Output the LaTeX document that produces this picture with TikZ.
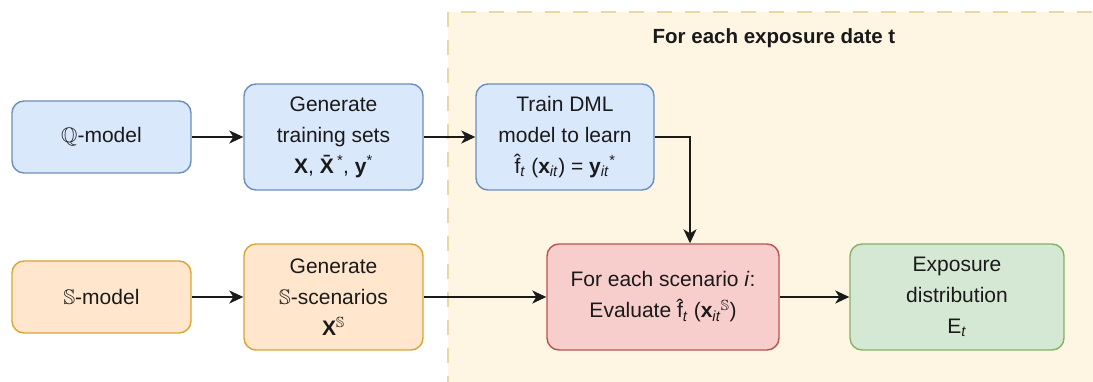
\documentclass[tikz,border=0pt]{standalone}
\usepackage{fontspec}
\usepackage{amssymb}
\usepackage{amsmath}
\setmainfont{Liberation Sans}
\usetikzlibrary{arrows.meta}
\definecolor{bfill}{HTML}{DAE8FC}\definecolor{bline}{HTML}{6C8EBF}
\definecolor{ofill}{HTML}{FFE6CC}\definecolor{oline}{HTML}{D9A633}
\definecolor{rfill}{HTML}{F8CECC}\definecolor{rline}{HTML}{B85450}
\definecolor{gfill}{HTML}{D5E8D4}\definecolor{gline}{HTML}{82B366}
\definecolor{zfill}{HTML}{FFF5E3}\definecolor{zline}{HTML}{E8D8A6}
\definecolor{txt}{HTML}{1A1A1A}
\tikzset{
  box/.style={rectangle, rounded corners=12pt, draw, line width=1.4pt, inner sep=0pt,
    align=center, text=txt, font=\fontsize{21}{31}\selectfont},
  bluebox/.style={box, fill=bfill, draw=bline},
  orangebox/.style={box, fill=ofill, draw=oline},
  redbox/.style={box, fill=rfill, draw=rline},
  greenbox/.style={box, fill=gfill, draw=gline},
  conn/.style={draw=txt, line width=1.7pt, -{Stealth[length=14pt,width=13pt,inset=4pt]}},
}
\begin{document}
\begin{tikzpicture}[x=1pt,y=-1pt]
\useasboundingbox (0,0) rectangle (1093,382);
\begin{scope}
\clip (0,0) rectangle (1093,382);
\draw[fill=zfill, draw=zline, line width=2pt, dash pattern=on 15pt off 13pt] (448,12) rectangle (1110,400);
\end{scope}
\node[font=\bfseries\fontsize{20.5}{24}\selectfont, text=txt] (title) at (774,38) {For each exposure date t};

\node[bluebox, minimum width=179pt, minimum height=72pt] (q) at (101.5,137) {$\boldsymbol{\mathbb{Q}}$-model};
\node[bluebox, minimum width=179pt, minimum height=106pt] (gen) at (333.5,137)
  {Generate\\training sets\\\textbf{X}, \textbf{\=X}\textsuperscript{*}, \textbf{y}\textsuperscript{*}};
\node[bluebox, minimum width=178pt, minimum height=106pt] (train) at (565,137)
  {Train DML\\model to learn\\\^{f}\textsubscript{\textit{t}} (\textbf{x}\textsubscript{\textit{it}}) = \textbf{y}\textsubscript{\textit{it}}\textsuperscript{*}};

\node[orangebox, minimum width=179pt, minimum height=72pt] (s) at (101.5,297) {$\mathbb{S}$-model};
\node[orangebox, minimum width=179pt, minimum height=106pt] (gens) at (333.5,297)
  {Generate\\$\mathbb{S}$-scenarios\\\textbf{X}\textsuperscript{$\mathbb{S}$}};
\node[redbox, minimum width=232pt, minimum height=106pt] (eval) at (663,297)
  {For each scenario \textit{i}:\\Evaluate \^{f}\textsubscript{\textit{t}} (\textbf{x}\textsubscript{\textit{it}}\textsuperscript{$\mathbb{S}$})};
\node[greenbox, minimum width=214pt, minimum height=106pt] (exp) at (957,297)
  {Exposure\\distribution\\E\textsubscript{\textit{t}}};

\coordinate (bend) at (690,137);
\draw[conn] (q) -- (gen);
\draw[conn] (gen) -- (train);
\draw[conn] (train.east) -- (bend) -- (bend |- eval.north);
\draw[conn] (s) -- (gens);
\draw[conn] (gens) -- (eval);
\draw[conn] (eval) -- (exp);
\end{tikzpicture}
\end{document}
